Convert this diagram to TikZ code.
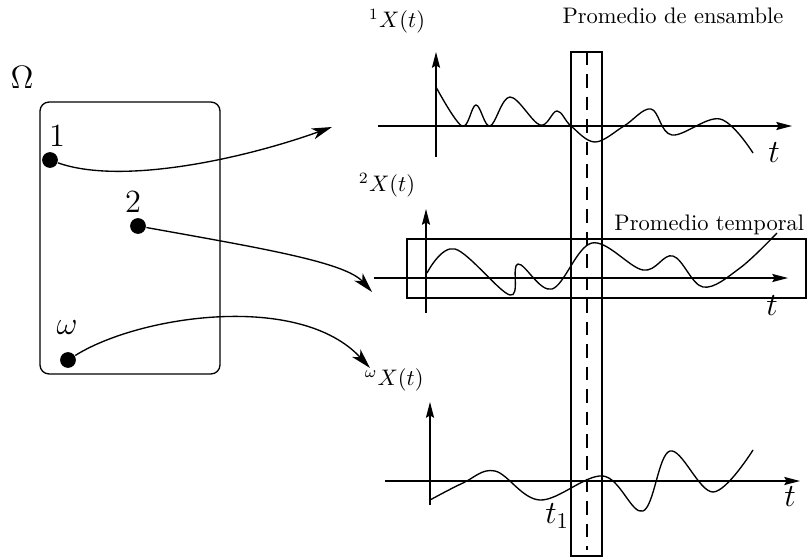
\documentclass[tikz,border=0pt]{standalone}
\usepackage{amsmath,amssymb}
\usetikzlibrary{arrows.meta,positioning}

\begin{document}
\begin{tikzpicture}[x=0.445pt, y=-0.445pt, line width=0.6pt,
  dot/.style={circle, fill, inner sep=0pt, minimum size=7pt},
  lab/.style={font=\Large, inner sep=1pt},
  sig/.style={font=\normalsize, inner sep=1pt},
  conn/.style={-{Stealth[length=9pt, width=5pt, inset=2.5pt]}},
  axis/.style={-{Stealth[length=7pt, width=3.6pt, inset=1pt]}},
  curve/.style={smooth, tension=0.6}]
  \useasboundingbox (0,0) rectangle (807,559);
  % sample space
  \node[lab] (omlab) at (22,77) {$\Omega$};
  \node[draw, rounded corners=4pt, minimum width=80.1pt, minimum height=121pt, inner sep=0pt] (space) at (130,238) {};
  \node[dot] (p1) at (50,160) {};
  \node[dot] (p2) at (138,226) {};
  \node[dot] (pw) at (68,360) {};
  \node[lab] (l1) at (57,136) {$1$};
  \node[lab] (l2) at (133,202) {$2$};
  \node[lab] (lw) at (67,328) {$\omega$};
  % realisations
  \node[sig] (x1) at (397,21) {${}^{1}X(t)$};
  \node[sig] (x2) at (387,185) {${}^{2}X(t)$};
  \node[sig] (xw) at (394,380) {${}^{\omega}X(t)$};
  \coordinate (e1) at (332,127);
  \coordinate (e2) at (372,292);
  \coordinate (ew) at (370,368);
  \draw[conn] (p1) .. controls (120,185) and (240,160) .. (e1);
  \draw[conn] (p2) .. controls (260,248) and (345,262) .. (e2);
  \draw[conn] (pw) .. controls (140,315) and (300,292) .. (ew);
  % axes
  \draw[axis] (436,157) -- (436,52);
  \draw[axis] (378,126) -- (792,126);
  \draw[axis] (426,313) -- (426,209);
  \draw[axis] (374,278) -- (788,278);
  \draw[axis] (430,505) -- (430,402);
  \draw[axis] (385,481) -- (800,481);
  \node[lab] (t1) at (774,153) {$t$};
  \node[lab] (t2) at (772,306) {$t$};
  \node[lab] (tw) at (790,497) {$t$};
  % sample paths
  \draw[curve] plot coordinates {(436,87) (462,126) (476,105) (490,126) (510,97) (540,125) (557,111) (571,126) (595,142) (624,126) (651,109) (672,135) (720,119) (753,153)};
  \draw[curve] plot coordinates {(427,273) (455,249) (510,295) (518,264) (552,289) (592,243) (643,270) (673,256) (703,287) (740,268) (777,233)};
  \draw[curve] plot coordinates {(430,500) (463,483) (495,471) (540,500) (603,476) (643,511) (670,451) (713,492) (753,450)};
  % averages
  \draw (571,52) rectangle (602,556);
  \draw[dashed, dash pattern=on 6pt off 4pt] (587,52) -- (587,550);
  \draw (407,239) rectangle (806,298);
  \node[sig] (ens) at (673,16) {Promedio de ensamble};
  \node[sig, anchor=east] (tem) at (807,225) {Promedio temporal};
  \node[lab, anchor=east] (tone) at (572,516) {$t_1$};
\end{tikzpicture}
\end{document}
